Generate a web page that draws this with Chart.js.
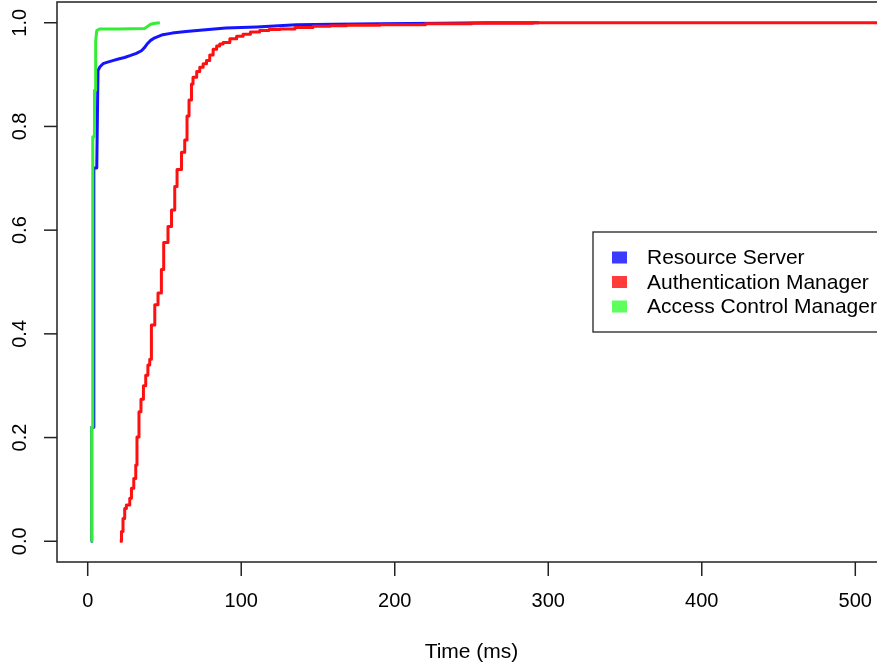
<!DOCTYPE html>
<html>
<head>
<meta charset="utf-8">
<script src="https://cdn.jsdelivr.net/npm/chart.js@4/dist/chart.umd.min.js"></script>
<style>
  html, body { margin: 0; padding: 0; background: #fff; overflow: hidden; }
  #wrap { width: 877px; height: 667px; overflow: hidden; }
</style>
</head>
<body>
<div id="wrap"><canvas id="ecdf" width="900" height="667"></canvas></div>
<script>
// tick labels
const timeTicks = [0, 100, 200, 300, 400, 500];
const probTicks = [0, 0.2, 0.4, 0.6, 0.8, 1.0];
const seriesNames = ['Resource Server', 'Authentication Manager', 'Access Control Manager'];

// Resource Server (ms, cumulative fraction)
const resourceX = [2.0, 2.5, 2.6, 3.9, 4.0, 5.9, 6.7, 8, 10, 13, 16.3, 20, 24, 28, 31.7, 35, 37, 39, 41, 43.7, 48.9, 55, 64, 75, 90, 110, 136, 160, 190, 230, 260, 294];
const resourceP = [0, 0.0, 0.22, 0.22, 0.72, 0.72, 0.908, 0.915, 0.921, 0.924, 0.927, 0.93, 0.933, 0.937, 0.941, 0.946, 0.952, 0.96, 0.966, 0.971, 0.977, 0.98, 0.983, 0.986, 0.99, 0.992, 0.996, 0.997, 0.998, 0.999, 1.0, 1.0];

// Authentication Manager
const authX = [20.9, 22.0, 23.0, 24.1, 25.2, 27.4, 28.5, 30.0, 31.3, 32.1, 33.4, 34.7, 36.3, 37.8, 39.2, 40.4, 41.5, 43.7, 45.8, 48.0, 49.5, 52.3, 54.6, 56.7, 58.2, 61.1, 63.2, 64.7, 66.0, 67.6, 68.6, 71, 73, 75.2, 77.4, 79.5, 81.7, 84, 86, 88.2, 92.6, 97, 101.2, 106, 112, 118, 125.2, 135, 146.7, 158, 168.6, 190.3, 220, 250, 290, 520];
const authP = [0, 0.019, 0.044, 0.063, 0.07, 0.083, 0.102, 0.121, 0.147, 0.201, 0.25, 0.274, 0.3, 0.32, 0.34, 0.351, 0.417, 0.456, 0.479, 0.524, 0.576, 0.607, 0.639, 0.684, 0.717, 0.75, 0.774, 0.82, 0.851, 0.882, 0.895, 0.906, 0.914, 0.921, 0.927, 0.938, 0.949, 0.955, 0.959, 0.962, 0.969, 0.974, 0.978, 0.982, 0.985, 0.987, 0.988, 0.991, 0.993, 0.994, 0.995, 0.996, 0.998, 0.999, 1.0, 1.0];

// Access Control Manager
const accessX = [2.3, 2.6, 2.6, 3.3, 3.3, 4.4, 4.4, 5.2, 5.2, 5.9, 8, 20, 37, 39, 41, 44, 47];
const accessP = [0, 0.0, 0.22, 0.22, 0.78, 0.78, 0.87, 0.87, 0.965, 0.985, 0.988, 0.988, 0.989, 0.993, 0.997, 0.999, 1.0];

const lineColors = ['#1414ff', '#ff1010', '#33ee33'];
const boxColors = ['#3b3bff', '#ff3b3b', '#5cff5c'];

function toPoints(xs, ps) {
    return xs.map((v, i) => ({ x: v, y: ps[i] }));
}

// R style frame, axes and legend
const rStyle = {
    id: 'rStyle',
    afterDraw(chart) {
        const ctx = chart.ctx;
        const a = chart.chartArea;
        const x = chart.scales.x, y = chart.scales.y;
        const fontFamily = '"Liberation Sans", Arial, sans-serif';
        ctx.save();
        ctx.strokeStyle = '#222';
        ctx.lineWidth = 1.5;
        ctx.strokeRect(a.left, a.top, a.right - a.left, a.bottom - a.top);

        ctx.font = '20px ' + fontFamily;
        ctx.fillStyle = '#000';
        ctx.textAlign = 'center';
        ctx.textBaseline = 'middle';

        // x axis
        for (const v of timeTicks) {
            const px = x.getPixelForValue(v);
            ctx.beginPath();
            ctx.moveTo(px, a.bottom);
            ctx.lineTo(px, a.bottom + 14);
            ctx.stroke();
            ctx.fillText(String(v), px, a.bottom + 39);
        }
        // y axis
        for (const v of probTicks) {
            const py = y.getPixelForValue(v);
            ctx.beginPath();
            ctx.moveTo(a.left - 13, py);
            ctx.lineTo(a.left, py);
            ctx.stroke();
            ctx.save();
            ctx.translate(20, py);
            ctx.rotate(-Math.PI / 2);
            ctx.fillText(v.toFixed(1), 0, 0);
            ctx.restore();
        }
        ctx.font = '21px ' + fontFamily;
        ctx.fillText('Time (ms)', (a.left + a.right) / 2, a.bottom + 90);

        // legend at the right
        const mid = (a.top + a.bottom) / 2;
        const lx = a.right - 293;
        ctx.lineWidth = 1.3;
        ctx.strokeRect(lx, mid - 50, 293, 100);
        ctx.textAlign = 'left';
        const rows = [mid - 24.5, mid, mid + 24.5];
        seriesNames.forEach((name, i) => {
            ctx.fillStyle = boxColors[i];
            ctx.fillRect(lx + 19, rows[i] - 6, 15, 12);
            ctx.fillStyle = '#000';
            ctx.fillText(name, lx + 54, rows[i] + 1);
        });
        ctx.restore();
    }
};

const ctx = document.querySelector('#ecdf').getContext('2d');
const chart = new Chart(ctx, {
    type: 'line',
    data: {
        datasets: [{
            label: seriesNames[0],
            data: toPoints(resourceX, resourceP),
            borderColor: lineColors[0],
            order: 3
        }, {
            label: seriesNames[1],
            data: toPoints(authX, authP),
            borderColor: lineColors[1],
            stepped: true,
            order: 2
        }, {
            label: seriesNames[2],
            data: toPoints(accessX, accessP),
            borderColor: lineColors[2],
            order: 1
        }]
    },
    options: {
        responsive: false,
        animation: false,
        devicePixelRatio: 1,
        layout: {
            padding: { left: 57, right: 14, top: 2, bottom: 105 }
        },
        elements: {
            line: { borderWidth: 3, tension: 0, fill: false, borderJoinStyle: 'round' },
            point: { radius: 0, hoverRadius: 0 }
        },
        scales: {
            x: { type: 'linear', min: -20, max: 520, display: false },
            y: { type: 'linear', min: -0.04, max: 1.04, display: false }
        },
        plugins: {
            legend: { display: false },
            tooltip: { enabled: false }
        }
    },
    plugins: [rStyle]
});
</script>
</body>
</html>
